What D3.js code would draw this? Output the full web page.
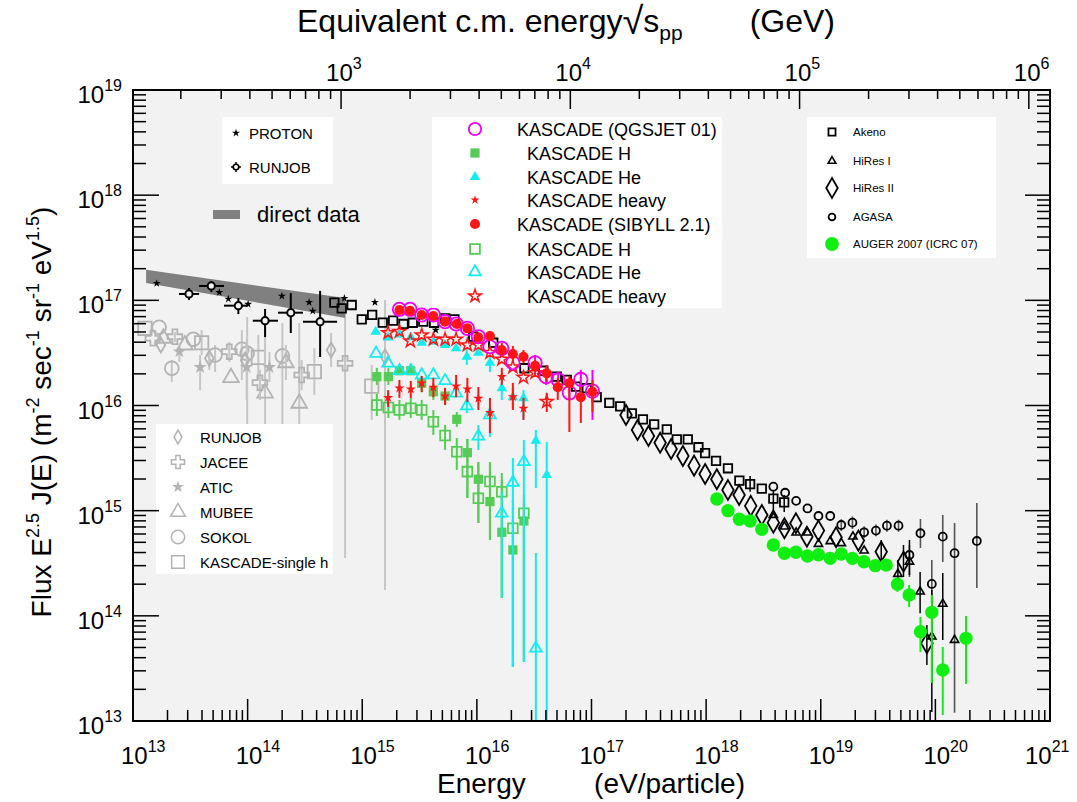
<!DOCTYPE html>
<html>
<head>
<meta charset="utf-8">
<script src="https://cdn.jsdelivr.net/npm/d3@7"></script>
<style>
  body { margin: 0; background: #ffffff; }
  svg text { font-family: "Liberation Sans", Arial, Helvetica, sans-serif; fill: #000; }
</style>
</head>
<body>
<svg id="chart" width="1077" height="802"></svg>
<script>
// ---------- axis domains and tick exponents ----------
const energyDomain = [1e13, 1e21];          // eV / particle
const fluxDomain = [1e13, 1e19];            // E^2.5 J(E)
const sqrtsDomain = [123.7, 1.237e6];       // equivalent c.m. energy, GeV
const energyLabelExps = ["13","14","15","16","17","18","19","20","21"];
const fluxLabelExps = ["13","14","15","16","17","18","19"];
const sqrtsLabelExps = ["3","4","5","6"];

// ---------- direct measurements band ----------
const directBandE = [1.3e13, 7.1e14];
const directBandHigh = [1.95e17, 1.05e17];
const directBandLow = [1.46e17, 6.8e16];

// ---------- proton spectra: [E, flux] ----------
const protonDirect = [
  [1.61e13,1.45e17],[5.66e13,1.19e17],[6.79e13,1.03e17],[1.01e14,9.2e16],[1.99e14,1.10e17],
  [3.44e14,9.58e16],[3.70e14,7.92e16],[6.98e14,1.045e17],[1.29e15,9.58e16],[4.38e15,5.22e16]
];
// RUNJOB protons: [E, flux, Elow, Ehigh, fluxLow, fluxHigh]
const runjobProton = [
  [3.08e13,1.15e17,2.52e13,3.77e13,1.01e17,1.31e17],
  [4.82e13,1.37e17,3.77e13,6.22e13,1.20e17,1.53e17],
  [8.3e13,8.9e16,6.22e13,1.01e14,7.4e16,1.05e17],
  [1.42e14,6.4e16,1.11e14,1.84e14,4.48e16,8.28e16],
  [2.38e14,7.63e16,1.84e14,3.04e14,4.89e16,1.17e17],
  [4.29e14,6.27e16,3.04e14,6.03e14,2.89e16,1.23e17]
];

// ---------- single-element / direct data: [E, flux, low, high] ----------
const runjobSingle = [
  [1.75e13,3.76e16],[4.63e13,2.81e16,2.18e16,3.52e16],[9.5e13,2.71e16],
  [5.35e14,3.37e16,2.32e16,4.89e16],[1.58e15,2.91e16,1.76e14,1.01e17]
];
const jacee = [
  [1.49e13,4.36e16],[2.32e13,4.51e16,4.02e16,5.0e16],[6.92e13,3.25e16,2.59e16,4.02e16],
  [1.28e14,1.65e16,1.13e16,2.18e16],[2.96e14,1.95e16,1.40e16,2.71e16],[7.08e14,2.52e16,3.55e14,1.01e17]
];
const atic = [
  [2.54e13,3.25e16,2.59e16,3.93e16],[3.85e13,2.31e16,1.40e16,3.02e16],
  [9.8e13,2.31e16,1.13e16,4.2e16],[1.55e14,2.31e16,1.67e16,3.23e16]
];
const mubee = [
  [1.84e13,4.36e16],[2.84e13,3.76e16],[7.16e13,1.84e16],[1.42e14,1.31e16,1.26e15,5.83e16],
  [2.16e14,2.55e16,1.75e16,3.76e16],[2.82e14,1.05e16,1.26e15,6.09e16]
];
const sokol = [
  [1.69e13,5.55e16],[3.36e13,4.26e16],[2.18e13,2.26e16,1.67e16,2.71e16],[5.2e13,3.02e16,2.08e16,3.76e16],
  [8.9e13,3.42e16,1.75e16,5.22e16],[9.9e13,3.13e16,1.96e15,6.95e16],[2.01e14,2.96e16,1.26e15,6.09e16]
];
const kascadeSingleH = [
  [1.27e13,5.42e16],[3.97e13,3.95e16,3.02e16,5.22e16],[1.24e14,2.87e16,1.75e16,4.68e16],
  [3.82e14,2.10e16,1.26e16,3.52e16],[1.21e15,1.53e16,7.3e15,2.43e16]
];

// ---------- air shower arrays: [E, flux, low, high] ----------
const akeno = [
  [5.71e14,9.5e16],[6.62e14,8.4e16],[8.09e14,9.03e16],[9.9e14,6.6e16],[1.22e15,7.26e16],
  [1.51e15,6.15e16],[1.86e15,6.4e16],[2.29e15,5.96e16],[2.76e15,6.12e16],[3.41e15,6.27e16],
  [4.24e15,6.12e16],[5.28e15,6.75e16],[6.37e15,6.6e16],[9.3e15,4.51e16],[1.39e16,3.95e16],
  [2.60e16,2.26e16],[3.80e16,2.14e16],[4.98e16,1.88e16],[6.08e16,1.75e16],[7.35e16,1.51e16],
  [9.1e16,1.46e16],[1.11e17,1.20e16],[1.43e17,1.06e16],[1.78e17,9.8e15],[2.25e17,8.43e15],
  [2.81e17,7.39e15],[3.52e17,6.62e15],[4.54e17,5.94e15],[5.55e17,4.77e15],[6.92e17,4.77e15],
  [8.57e17,4.01e15],[9.8e17,3.52e15],[1.22e18,2.97e15],[1.55e18,2.53e15],[1.95e18,1.93e15],
  [2.42e18,1.79e15,1.51e15,2.14e15],[3.06e18,1.62e15],[3.86e18,1.30e15,1.01e15,1.57e15],
  [4.80e18,1.20e15,9.7e14,1.41e15]
];
const hiresII = [
  [2.00e17,8.13e15],[2.52e17,5.85e15],[3.14e17,5.13e15],[3.97e17,4.43e15],[4.95e17,3.86e15],
  [6.27e17,3.31e15],[7.85e17,2.68e15],[9.8e17,2.23e15],[1.24e18,1.99e15],[1.55e18,1.57e15],
  [1.94e18,1.41e15],[2.45e18,1.11e15],[3.06e18,9.1e14],[3.86e18,7.69e14],[4.82e18,6.8e14],
  [6.07e18,7.59e14],[7.57e18,5.66e14],[9.55e18,6.46e14],[1.36e19,5.58e14],[2.13e19,5.19e14],
  [3.37e19,4.07e14,3.04e14,5.26e14],[5.27e19,3.27e14,2.34e14,4.72e14],[8.43e19,5.48e13,3.41e13,8.18e13]
];
const hiresI = [
  [3.86e18,9.1e14],[4.82e18,7.05e14],[6.1e18,6.18e14],[7.66e18,6.18e14],[9.55e18,4.82e14],
  [1.21e19,5.12e14],[1.51e19,4.9e14],[1.91e19,5.66e14],[2.39e19,4.17e14],
  [4.71e19,2.50e14,1.84e14,3.40e14],[5.94e19,3.27e14,2.44e14,5.26e14],[7.36e19,1.70e14,1.06e14,2.61e14],
  [9.31e19,6.34e13,1.22e13,1.76e14],[1.16e20,1.30e14,5.89e13,2.55e14],[1.47e20,5.89e13]
];
const agasa = [
  [3.86e18,1.69e15],[4.89e18,1.48e15],[6.1e18,1.24e15],[7.66e18,1.05e15],[9.55e18,8.9e14],
  [1.21e19,8.9e14],[1.51e19,7.31e14,6.4e14,8.3e14],[1.89e19,7.69e14,6.7e14,8.8e14],
  [2.39e19,6.23e14,5.5e14,7.1e14],[3.03e19,6.46e14,5.7e14,7.4e14],[3.78e19,7.2e14,6.3e14,8.2e14],
  [4.77e19,7.2e14,6.3e14,8.2e14],[5.94e19,3.79e14,2.34e14,4.72e14],[7.41e19,6.1e14,4.42e14,8.34e14],
  [9.31e19,2.01e14,2.30e13,3.40e14],[1.16e20,5.66e14,3.25e14,9.1e14],[1.47e20,3.94e14,1.2e13,7.64e14],
  [2.30e20,5.15e14,1.84e14,1.18e15]
];
const auger2007 = [
  [1.24e18,1.29e15],[1.55e18,1.00e15],[1.95e18,8.28e14],[2.42e18,7.98e14],[3.06e18,6.65e14],
  [3.86e18,4.72e14],[4.82e18,3.94e14],[6.07e18,4.02e14],[7.66e18,3.71e14],[9.55e18,3.81e14],
  [1.21e19,3.52e14],[1.51e19,3.87e14],[1.89e19,3.52e14],[2.38e19,3.27e14],[2.99e19,3.0e14],
  [3.72e19,3.04e14],[4.67e19,2.0e14,1.69e14,2.29e14],[5.9e19,1.58e14,1.21e14,1.97e14],
  [7.41e19,7.07e13,4.53e13,9.75e13],[9.31e19,1.08e14,2.30e13,1.58e14],
  [1.16e20,3.06e13,1.14e13,5.06e13],[1.85e20,6.11e13,2.25e13,9.97e13]
];

// ---------- KASCADE unfolding results: [E, flux, low, high] ----------
const kascadeQgsjetAll = [
  [2.11e15,8.22e16],[2.61e15,8.22e16],[3.30e15,7.26e16],[4.17e15,7.26e16],[5.28e15,6.27e16],
  [6.59e15,5.96e16],[8.26e15,5.42e16],[1.03e16,4.51e16],[1.30e16,3.62e16],[1.65e16,3.50e16],
  [2.06e16,2.55e16],[3.22e16,2.55e16,2.18e16,3.02e16],[4.02e16,1.88e16,1.57e16,2.28e16],
  [5.12e16,1.75e16,1.47e16,2.08e16],[6.41e16,1.32e16,1.13e16,1.57e16],
  [8.07e16,1.77e16,1.40e16,2.18e16],[1.02e17,1.37e16,7.3e15,2.18e16]
];
const kascadeQgsjetH = [
  [1.34e15,1.88e16,1.57e16,2.28e16],[1.69e15,1.88e16,1.57e16,2.28e16],[2.11e15,2.14e16],[2.65e15,2.14e16],
  [3.30e15,1.63e16,1.34e16,1.91e16],[4.17e15,1.35e16,1.13e16,1.64e16],[5.28e15,1.23e16,1.03e16,1.47e16],
  [6.68e15,7.39e15,6.25e15,8.67e15],[8.26e15,3.56e15,1.32e15,4.81e15],[1.03e16,1.99e15,7.64e14,2.90e15],
  [1.30e16,1.22e15,5.26e14,2.90e15],[1.65e16,6.23e14,1.48e14,1.96e15],[2.06e16,4.23e14,3.26e13,8.15e14],
  [2.57e16,7.98e14,3.64e13,1.21e15]
];
const kascadeQgsjetHe = [
  [1.31e15,5.03e16],[1.68e15,4.43e16],[2.11e15,4.73e16],[2.65e15,4.45e16],[3.30e15,3.95e16],
  [4.17e15,4.04e16],[5.28e15,3.76e16],[6.59e15,3.50e16],[8.17e15,2.91e16,2.43e16,3.52e16],
  [1.03e16,3.18e16],[1.30e16,2.55e16,2.08e16,3.02e16],[1.65e16,1.46e16,1.13e16,1.75e16],
  [2.06e16,1.20e16,9.46e15,1.47e16],[2.55e16,1.17e16,7.3e15,1.40e16],[3.27e16,4.62e15,1.64e15,5.85e15],
  [4.07e16,2.18e15,5e12,4.5e15]
];
const kascadeQgsjetHeavy = [
  [1.68e15,1.19e16,9.68e15,1.40e16],[2.11e15,1.46e16,1.18e16,1.75e16],[2.65e15,1.43e16,1.18e16,1.71e16],
  [3.30e15,1.63e16,1.34e16,1.91e16],[4.17e15,1.49e16,1.20e16,1.83e16],[5.28e15,1.23e16,1.01e16,1.47e16],
  [6.59e15,1.53e16,1.20e16,1.95e16],[8.26e15,1.43e16,1.08e16,1.83e16],[1.03e16,1.17e16,9.06e15,1.50e16],
  [1.30e16,8.55e15,5.48e15,1.18e16],[1.65e16,1.88e16,1.57e16,2.28e16],[2.06e16,1.21e16,9.06e15,1.64e16],
  [2.55e16,9.4e15,7.3e15,1.18e16]
];
const kascadeSibyllAll = [
  [2.11e15,8.09e16],[2.61e15,7.97e16],[3.30e15,7.26e16],[4.17e15,7.1e16],[5.28e15,6.27e16],
  [6.68e15,5.96e16],[8.26e15,5.42e16],[1.03e16,4.45e16],[1.30e16,4.58e16],
  [1.65e16,3.37e16,2.89e16,3.93e16],[2.06e16,3.09e16,2.59e16,3.68e16],[2.55e16,2.91e16,2.54e16,3.37e16],
  [3.22e16,2.38e16,1.87e16,2.71e16],[4.07e16,2.02e16,1.67e16,2.43e16],[5.08e16,1.49e16,1.13e16,1.83e16],
  [6.41e16,1.63e16,5.6e15,1.91e16],[8.07e16,1.20e16,6.82e15,1.50e16],[1.02e17,1.35e16,8.67e15,1.75e16]
];
const kascadeSibyllH = [
  [1.34e15,1.01e16,7.94e15,1.29e16],[1.69e15,9.57e15,7.6e15,1.20e16],[2.11e15,9.06e15,7.3e15,1.13e16],
  [2.65e15,9.4e15,7.6e15,1.18e16],[3.30e15,9.06e15,7.3e15,1.13e16],[4.17e15,7.02e15,5.25e15,9.06e15],
  [5.28e15,5.19e15,3.78e15,6.53e15],[6.68e15,3.64e15,2.44e15,4.91e15],[8.26e15,2.35e15,1.32e15,4.81e15],
  [1.03e16,1.31e15,7.64e14,2.90e15],[1.30e16,1.89e15,5.26e14,2.90e15],[1.65e16,1.51e15,1.48e14,2.28e15],
  [2.06e16,6.8e14,3.26e13,1.26e15],[2.57e16,9.44e14,3.64e13,1.41e15]
];
const kascadeSibyllHe = [
  [1.32e15,3.13e16],[1.68e15,2.52e16],[2.11e15,2.14e16],[2.65e15,2.14e16],[3.30e15,1.95e16],
  [4.17e15,1.95e16],[5.28e15,1.72e16],[6.59e15,1.31e16],[8.17e15,9.9e15,8.49e15,1.13e16],
  [1.03e16,5.1e15,3.78e15,6.53e15],[1.30e16,8.13e15,5.02e15,9.68e15],[1.65e16,9.44e14,1.48e14,1.51e15],
  [2.06e16,1.85e15,3.26e13,3.17e15],[2.57e16,2.92e15,3.64e13,4.70e15],[3.27e16,4.91e13,5e12,3.96e14]
];
const kascadeSibyllHeavy = [
  [1.68e15,4.92e16],[2.11e15,5.06e16],[2.63e15,4.10e16],[3.30e15,4.68e16],[4.17e15,4.26e16],
  [5.28e15,4.26e16],[6.59e15,4.26e16],[8.26e15,3.76e16],[1.03e16,3.76e16],[1.30e16,3.18e16],
  [1.65e16,2.75e16],[2.06e16,2.32e16],[2.55e16,1.85e16],[3.22e16,2.05e16],[4.07e16,1.09e16,8.67e15,1.32e16]
];

// ---------- legend labels ----------
const protonLegendLabels = ["PROTON", "RUNJOB"];
const kascadeLegendLabels = ["KASCADE (QGSJET 01)", "KASCADE H", "KASCADE He", "KASCADE heavy",
                             "KASCADE (SIBYLL 2.1)", "KASCADE H", "KASCADE He", "KASCADE heavy"];
const showerLegendLabels = ["Akeno", "HiRes I", "HiRes II", "AGASA", "AUGER 2007 (ICRC 07)"];
const directLegendLabels = ["RUNJOB", "JACEE", "ATIC", "MUBEE", "SOKOL", "KASCADE-single h"];

// ---------- layout ----------
const L = 133, R = 1050, T = 90, B = 721;
const svg = d3.select("#chart");
const x = d3.scaleLog().domain(energyDomain).range([L, R]);
const y = d3.scaleLog().domain(fluxDomain).range([B, T]);
const xTop = d3.scaleLog().domain(sqrtsDomain).range([L, R]);

const GRAY = "#b3b3b3", GRAY_BAR = "#c6c6c6";
const GREEN = "#55cc55", CYAN = "#11eeee", RED = "#ff1515", MAGENTA = "#f000f0", LIME = "#11ee11";

svg.append("rect").attr("x", L).attr("y", T).attr("width", R - L).attr("height", B - T).attr("fill", "#f2f2f2");
svg.append("defs").append("clipPath").attr("id", "plotClip")
  .append("rect").attr("x", L).attr("y", T).attr("width", R - L).attr("height", B - T);
const plot = svg.append("g").attr("clip-path", "url(#plotClip)");

function sym(type, size) { return d3.symbol(type, size)(); }

// draws one data set: vertical error bars first, then the markers
function drawSeries(data, o) {
  const g = plot.append("g");
  g.selectAll("line").data(data.filter(d => d.length > 3)).join("line")
    .attr("x1", d => x(d[0])).attr("x2", d => x(d[0]))
    .attr("y1", d => y(d[2])).attr("y2", d => y(d[3]))
    .attr("stroke", o.bar).attr("stroke-width", o.barWidth || 2);
  g.selectAll("path").data(data).join("path")
    .attr("transform", d => `translate(${x(d[0])},${y(d[1])})`)
    .attr("d", sym(o.type, o.size))
    .attr("fill", o.fill || "none")
    .attr("stroke", o.stroke || "none")
    .attr("stroke-width", o.sw || 0)
    .attr("stroke-linejoin", "miter");
}

// direct measurements (gray)
drawSeries(kascadeSingleH, {type: d3.symbolSquare, size: 180, stroke: GRAY, sw: 1.8, bar: GRAY_BAR});
drawSeries(sokol, {type: d3.symbolCircle, size: 150, stroke: GRAY, sw: 1.8, bar: GRAY_BAR});
drawSeries(mubee, {type: d3.symbolTriangle, size: 105, stroke: GRAY, sw: 1.8, bar: GRAY_BAR});
drawSeries(jacee, {type: d3.symbolCross, size: 120, stroke: GRAY, sw: 1.8, bar: GRAY_BAR});
drawSeries(atic, {type: d3.symbolStar, size: 55, fill: GRAY, bar: GRAY_BAR});
drawSeries(runjobSingle, {type: d3.symbolDiamond, size: 65, stroke: GRAY, sw: 1.8, bar: GRAY_BAR});

// direct data band
plot.append("path")
  .attr("d", d3.line()([
    [x(directBandE[0]), y(directBandHigh[0])], [x(directBandE[1]), y(directBandHigh[1])],
    [x(directBandE[1]), y(directBandLow[1])], [x(directBandE[0]), y(directBandLow[0])]
  ]) + "Z")
  .attr("fill", "#808080");

// RUNJOB protons with energy and flux errors
const rj = plot.append("g");
rj.selectAll("line.h").data(runjobProton).join("line").attr("class", "h")
  .attr("x1", d => x(d[2])).attr("x2", d => x(d[3])).attr("y1", d => y(d[1])).attr("y2", d => y(d[1]))
  .attr("stroke", "#000").attr("stroke-width", 2);
rj.selectAll("line.v").data(runjobProton).join("line").attr("class", "v")
  .attr("x1", d => x(d[0])).attr("x2", d => x(d[0])).attr("y1", d => y(d[4])).attr("y2", d => y(d[5]))
  .attr("stroke", "#000").attr("stroke-width", 2);
rj.selectAll("circle").data(runjobProton).join("circle")
  .attr("cx", d => x(d[0])).attr("cy", d => y(d[1])).attr("r", 3.6)
  .attr("fill", "#f2f2f2").attr("stroke", "#000").attr("stroke-width", 2);

drawSeries(protonDirect, {type: d3.symbolStar, size: 20, fill: "#000"});

// air shower arrays
drawSeries(akeno, {type: d3.symbolSquare, size: 72, stroke: "#000", sw: 1.8, bar: "#000", barWidth: 1.5});
drawSeries(hiresII, {type: d3.symbolDiamond, size: 115, stroke: "#000", sw: 1.8, bar: "#000", barWidth: 1.5});
drawSeries(agasa, {type: d3.symbolCircle, size: 50, stroke: "#000", sw: 1.8, bar: "#555", barWidth: 1.6});
drawSeries(hiresI, {type: d3.symbolTriangle, size: 30, stroke: "#000", sw: 1.6, bar: "#000", barWidth: 1.5});
drawSeries(auger2007, {type: d3.symbolCircle, size: 140, fill: LIME, bar: LIME, barWidth: 2});

// KASCADE
drawSeries(kascadeSibyllH, {type: d3.symbolSquare, size: 95, stroke: GREEN, sw: 1.8, bar: GREEN});
drawSeries(kascadeQgsjetH, {type: d3.symbolSquare, size: 85, fill: GREEN, bar: GREEN});
drawSeries(kascadeSibyllHe, {type: d3.symbolTriangle, size: 60, stroke: CYAN, sw: 1.8, bar: CYAN});
drawSeries(kascadeQgsjetHe, {type: d3.symbolTriangle, size: 48, fill: CYAN, bar: CYAN});
drawSeries(kascadeSibyllHeavy, {type: d3.symbolStar, size: 50, stroke: RED, sw: 1.5, bar: RED});
drawSeries(kascadeQgsjetHeavy, {type: d3.symbolStar, size: 32, fill: RED, bar: RED});
drawSeries(kascadeQgsjetAll, {type: d3.symbolCircle, size: 140, stroke: MAGENTA, sw: 1.8, bar: MAGENTA});
drawSeries(kascadeSibyllAll, {type: d3.symbolCircle, size: 80, fill: RED, bar: RED});

// ---------- legends ----------
const leg = svg.append("g");
function box(x0, y0, x1, y1) {
  leg.append("rect").attr("x", x0).attr("y", y0).attr("width", x1 - x0).attr("height", y1 - y0).attr("fill", "#fff");
}
function marker(px, py, type, size, fill, stroke, sw) {
  leg.append("path").attr("transform", `translate(${px},${py})`).attr("d", sym(type, size))
    .attr("fill", fill || "none").attr("stroke", stroke || "none").attr("stroke-width", sw || 0);
}
function label(px, py, str, size) {
  return leg.append("text").attr("x", px).attr("y", py).attr("font-size", size).text(str);
}

// proton legend
box(222, 117, 333, 184);
marker(236, 133, d3.symbolStar, 20, "#000");
leg.append("line").attr("x1", 231).attr("x2", 241).attr("y1", 167).attr("y2", 167).attr("stroke", "#000").attr("stroke-width", 1.5);
leg.append("line").attr("x1", 236).attr("x2", 236).attr("y1", 162).attr("y2", 172).attr("stroke", "#000").attr("stroke-width", 1.5);
leg.append("circle").attr("cx", 236).attr("cy", 167).attr("r", 2.8).attr("fill", "#fff").attr("stroke", "#000").attr("stroke-width", 1.6);
protonLegendLabels.forEach((t, i) => label(249, 139 + i * 34, t, 15));

// direct data band legend entry
leg.append("rect").attr("x", 213).attr("y", 210).attr("width", 27).attr("height", 9).attr("fill", "#808080");
label(257, 222, "direct data", 22);

// KASCADE legend
box(432, 117, 722, 308);
const kRows = [129, 153, 177, 200, 224, 249, 272, 296];
marker(475, kRows[0], d3.symbolCircle, 120, "none", MAGENTA, 1.8);
marker(475, kRows[1], d3.symbolSquare, 85, GREEN);
marker(475, kRows[2], d3.symbolTriangle, 48, CYAN);
marker(475, kRows[3], d3.symbolStar, 26, RED);
marker(475, kRows[4], d3.symbolCircle, 80, RED);
marker(475, kRows[5], d3.symbolSquare, 95, "none", GREEN, 1.8);
marker(475, kRows[6], d3.symbolTriangle, 60, "none", CYAN, 1.8);
marker(475, kRows[7], d3.symbolStar, 50, "none", RED, 1.5);
kascadeLegendLabels.forEach((t, i) => label(i === 0 || i === 4 ? 517 : 527, kRows[i] + 6.5, t, 18));

// air shower legend
box(807, 117, 996, 258);
const sRows = [132, 161, 188, 217, 244];
marker(832, sRows[0], d3.symbolSquare, 50, "none", "#000", 1.8);
marker(832, sRows[1], d3.symbolTriangle, 26, "none", "#000", 1.6);
marker(832, sRows[2], d3.symbolDiamond, 115, "none", "#000", 1.8);
marker(832, sRows[3], d3.symbolCircle, 36, "none", "#000", 1.8);
marker(832, sRows[4], d3.symbolCircle, 150, LIME);
showerLegendLabels.forEach((t, i) => label(853, sRows[i] + 4, t, 11.5));

// direct measurement legend
box(156, 424, 333, 574);
const dRows = [437, 462, 487, 512, 537, 562];
marker(178, dRows[0], d3.symbolDiamond, 55, "none", GRAY, 1.5);
marker(178, dRows[1], d3.symbolCross, 95, "none", GRAY, 1.5);
marker(178, dRows[2], d3.symbolStar, 45, GRAY);
marker(178, dRows[3], d3.symbolTriangle, 95, "none", GRAY, 1.5);
marker(178, dRows[4], d3.symbolCircle, 140, "none", GRAY, 1.5);
marker(178, dRows[5], d3.symbolSquare, 160, "none", GRAY, 1.5);
directLegendLabels.forEach((t, i) => label(200, dRows[i] + 5.5, t, 15));

// ---------- frame, ticks and labels ----------
const axes = svg.append("g");
const isMajor = v => Math.abs(Math.log10(v) - Math.round(Math.log10(v))) < 1e-6;
function tickLines(ticks, pos, fn) {
  ticks.forEach(v => { const p = pos(v); const m = isMajor(v); fn(p, m); });
}
function tl(x1, y1, x2, y2) {
  axes.append("line").attr("x1", x1).attr("y1", y1).attr("x2", x2).attr("y2", y2)
    .attr("stroke", "#000").attr("stroke-width", 1.5);
}
tickLines(x.ticks(), x, (p, m) => tl(p, B, p, B - (m ? 22 : 11)));
tickLines(xTop.ticks(), xTop, (p, m) => tl(p, T, p, T + (m ? 19 : 9)));
tickLines(y.ticks(), y, (p, m) => { tl(L, p, L + (m ? 26 : 13), p); tl(R, p, R - (m ? 25 : 13), p); });

axes.append("rect").attr("x", L).attr("y", T).attr("width", R - L).attr("height", B - T)
  .attr("fill", "none").attr("stroke", "#000").attr("stroke-width", 2);

function powerLabel(px, py, exp, anchor) {
  const t = axes.append("text").attr("x", px).attr("y", py).attr("text-anchor", anchor).attr("font-size", 24);
  t.append("tspan").text("10");
  t.append("tspan").attr("font-size", 16).attr("dy", -12).text(exp);
}
energyLabelExps.forEach(e => {
  const p = x(Math.pow(10, +e));
  powerLabel(Math.min(p - 12, 1070 - 45), 764, e, "start");
});
fluxLabelExps.forEach(e => powerLabel(122, y(Math.pow(10, +e)) + 13, e, "end"));
sqrtsLabelExps.forEach(e => powerLabel(xTop(Math.pow(10, +e)) - 15, 81, e, "start"));

// axis titles
axes.append("text").attr("x", 437).attr("y", 793).attr("font-size", 28).text("Energy");
axes.append("text").attr("x", 745).attr("y", 793).attr("font-size", 28).attr("text-anchor", "end").text("(eV/particle)");

const topTitle = axes.append("text").attr("x", 297).attr("y", 32).attr("font-size", 32);
topTitle.append("tspan").text("Equivalent c.m. energy");
topTitle.append("tspan").attr("font-size", 38).attr("dy", 2).text("\u221A");
topTitle.append("tspan").attr("dy", -2).text("s");
topTitle.append("tspan").attr("font-size", 21).attr("dy", 8).text("pp");
axes.append("text").attr("x", 835).attr("y", 32).attr("font-size", 32).attr("text-anchor", "end").text("(GeV)");

const yTitle = axes.append("text").attr("transform", "translate(51,412) rotate(-90)")
  .attr("text-anchor", "middle").attr("font-size", 28);
[["Flux E", 0], ["2.5", 1], [" J(E) (m", 0], ["-2", 1], [" sec", 0], ["-1", 1],
 [" sr", 0], ["-1", 1], [" eV", 0], ["1.5", 1], [")", 0]].forEach(([s, sup], i, arr) => {
  const prevSup = i > 0 && arr[i - 1][1];
  const ts = yTitle.append("tspan").text(s).attr("xml:space", "preserve");
  if (sup) ts.attr("font-size", 18).attr("dy", -12);
  else if (prevSup) ts.attr("dy", 12);
});
</script>
</body>
</html>
